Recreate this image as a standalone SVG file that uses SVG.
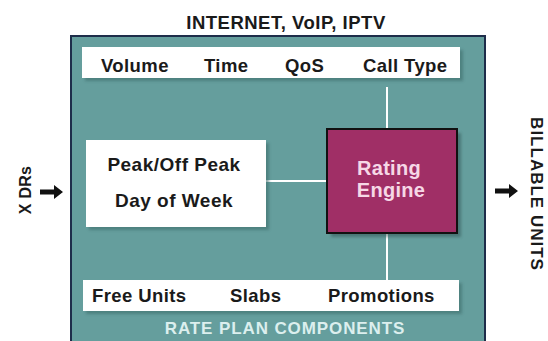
<svg xmlns="http://www.w3.org/2000/svg" width="548" height="341" viewBox="0 0 548 341">
<style>
.t{font-family:"Liberation Sans",Arial,sans-serif;font-weight:bold;fill:#1a1a1a}
.bar{fill:#ffffff}
.sh{fill:#3e6d6c;opacity:0.6}
.ln{stroke:#ffffff;stroke-width:2;fill:none}
.arr{fill:#111111}
.b{font-size:18.5px;letter-spacing:0.4px}
</style>
<defs>
<filter id="blur" x="-10%" y="-10%" width="130%" height="140%"><feGaussianBlur stdDeviation="1.5"/></filter>
</defs>
<rect width="548" height="341" fill="#ffffff"/>
<text class="t" x="286" y="29" font-size="18.5" text-anchor="middle" letter-spacing="0.5">INTERNET, VoIP, IPTV</text>
<g id="frame">
<rect x="71" y="36" width="414" height="312" fill="#659e9d" stroke="#1e2d4a" stroke-width="2"/>
<text class="t" x="285" y="334" font-size="17" text-anchor="middle" letter-spacing="0.9" style="fill:#dcefee">RATE PLAN COMPONENTS</text>
</g>
<g id="connectors">
<line class="ln" x1="387" y1="87" x2="387" y2="130"/>
<line class="ln" x1="387" y1="233" x2="387" y2="280"/>
<line class="ln" x1="266" y1="181" x2="327" y2="181"/>
</g>
<g id="top-bar">
<rect class="sh" x="85" y="50" width="378" height="31" filter="url(#blur)"/>
<rect class="bar" x="82" y="47" width="378" height="31"/>
<text class="t b" x="101" y="72">Volume</text>
<text class="t b" x="204" y="72">Time</text>
<text class="t b" x="285" y="72">QoS</text>
<text class="t b" x="363" y="72">Call Type</text>
</g>
<g id="time-box">
<rect class="sh" x="89" y="143" width="180" height="87" filter="url(#blur)"/>
<rect class="bar" x="86" y="140" width="180" height="87"/>
<text class="t" x="174" y="171" font-size="19" text-anchor="middle" letter-spacing="0.5">Peak/Off Peak</text>
<text class="t" x="174" y="207" font-size="19" text-anchor="middle" letter-spacing="0.5">Day of Week</text>
</g>
<g id="rating-engine">
<rect x="331" y="133" width="130" height="104" fill="#2f4f4f" opacity="0.5" filter="url(#blur)"/>
<rect x="327" y="129" width="130" height="104" fill="#a02f66" stroke="#111111" stroke-width="2"/>
<text class="t" x="389" y="175" font-size="20" text-anchor="middle" letter-spacing="0.3" style="fill:#f6d8e6">Rating</text>
<text class="t" x="391" y="197" font-size="20" text-anchor="middle" letter-spacing="0.3" style="fill:#f6d8e6">Engine</text>
</g>
<g id="bottom-bar">
<rect class="sh" x="86" y="283" width="376" height="31" filter="url(#blur)"/>
<rect class="bar" x="83" y="280" width="376" height="31"/>
<text class="t b" x="92" y="302">Free Units</text>
<text class="t b" x="230" y="302">Slabs</text>
<text class="t b" x="328" y="302">Promotions</text>
</g>
<g id="xdrs">
<text class="t" transform="translate(31,190) rotate(-90)" font-size="16" text-anchor="middle" letter-spacing="0.3">X DRs</text>
<path class="arr" d="M40,189.5 H54 V185 L63,192 L54,199 V194.5 H40 Z"/>
</g>
<g id="billable">
<text class="t" transform="translate(531,194) rotate(90)" font-size="17" text-anchor="middle" letter-spacing="1">BILLABLE UNITS</text>
<path class="arr" d="M495,188.5 H509 V184 L518,191 L509,198 V193.5 H495 Z"/>
</g>
</svg>
